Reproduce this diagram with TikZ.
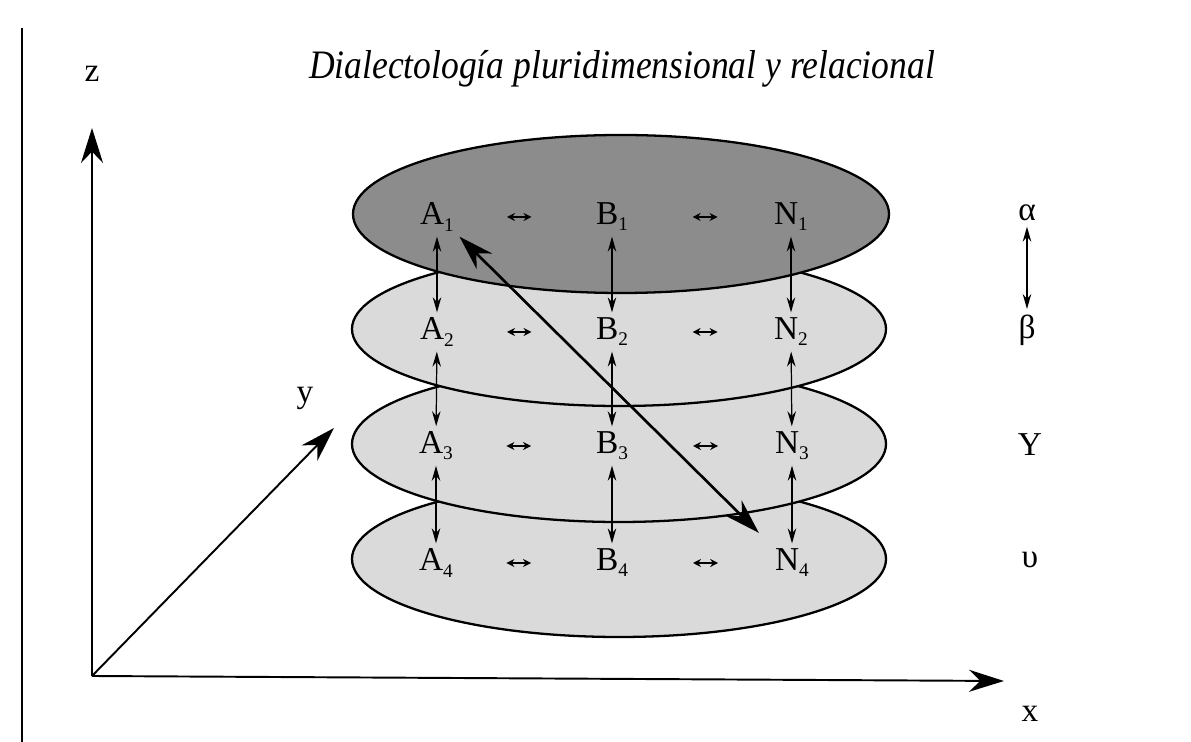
\documentclass[tikz,border=0pt]{standalone}
\usepackage{amsmath,amssymb}
\usepackage{fontspec}
\setmainfont{Liberation Serif}
\usepackage{xcolor}
\usepackage{tikz}
\usetikzlibrary{arrows.meta,calc}
\definecolor{layerdark}{RGB}{140,140,140}
\definecolor{layerlight}{RGB}{218,218,218}
\newcommand{\lev}[1]{\raisebox{-0.4ex}{\fontsize{11}{12}\selectfont #1}}

\begin{document}
\begin{tikzpicture}[x=0.02cm, y=-0.02cm,
    layer/.style={draw=black, line width=1.3pt},
    lbl/.style={font=\fontsize{19}{22}\selectfont, inner sep=3pt},
    axis/.style={-{Stealth[length=7mm,width=4.4mm]}, line width=1.1pt},
    vlink/.style={{Stealth[length=3mm,width=1.7mm]}-{Stealth[length=3mm,width=1.7mm]}, line width=0.7pt},
    hlink/.style={{Stealth[length=1.6mm,width=1.6mm]}-{Stealth[length=1.6mm,width=1.6mm]}, line width=1.2pt},
    diag/.style={{Stealth[length=7mm,width=4.4mm]}-{Stealth[length=7mm,width=4.4mm]}, line width=1.5pt}]
    \useasboundingbox (0,0) rectangle (1191,742);
    % page edge
    \draw[line width=1.5pt] (22,28) -- (22,742);
    % title
    \node[font=\fontsize{23}{27}\selectfont\itshape] (title) at (622,69)
        {\scalebox{0.88}[1]{Dialectología pluridimensional y relacional}};
    % axes
    \coordinate (O) at (92,676);
    \coordinate (zend) at (92,128);
    \coordinate (xend) at (1004,681);
    \coordinate (yend) at (334,428);
    \draw[axis] (O) -- (zend);
    \draw[axis] (O) -- (xend);
    \draw[axis] (O) -- (yend);
    \node[lbl] (zlab) at (92,74) {z};
    \node[lbl] (ylab) at (305,398) {y};
    \node[lbl] (xlab) at (1030,714) {x};
    % layers, lowest first
    \filldraw[layer, fill=layerlight] (619,559) ellipse (267 and 78);
    \filldraw[layer, fill=layerlight] (619,444) ellipse (267 and 78);
    \filldraw[layer, fill=layerlight] (619,329) ellipse (267 and 77);
    \filldraw[layer, fill=layerdark] (621,214) ellipse (268 and 79);
    % varieties
    \node[lbl] (A1) at (437,217) {A\lev{1}};
    \node[lbl] (B1) at (612,217) {B\lev{1}};
    \node[lbl] (N1) at (791,217) {N\lev{1}};
    \node[lbl] (A2) at (437,332) {A\lev{2}};
    \node[lbl] (B2) at (612,332) {B\lev{2}};
    \node[lbl] (N2) at (791,332) {N\lev{2}};
    \node[lbl] (A3) at (436,446) {A\lev{3}};
    \node[lbl] (B3) at (612,446) {B\lev{3}};
    \node[lbl] (N3) at (792,446) {N\lev{3}};
    \node[lbl] (A4) at (436,563) {A\lev{4}};
    \node[lbl] (B4) at (612,563) {B\lev{4}};
    \node[lbl] (N4) at (792,563) {N\lev{4}};
    % links inside a layer
    \draw[hlink] ($(A1)!0.40!(B1)$) -- ($(A1)!0.54!(B1)$);
    \draw[hlink] ($(B1)!0.45!(N1)$) -- ($(B1)!0.59!(N1)$);
    \draw[hlink] ($(A2)!0.40!(B2)$) -- ($(A2)!0.54!(B2)$);
    \draw[hlink] ($(B2)!0.45!(N2)$) -- ($(B2)!0.59!(N2)$);
    \draw[hlink] ($(A3)!0.40!(B3)$) -- ($(A3)!0.54!(B3)$);
    \draw[hlink] ($(B3)!0.45!(N3)$) -- ($(B3)!0.59!(N3)$);
    \draw[hlink] ($(A4)!0.40!(B4)$) -- ($(A4)!0.54!(B4)$);
    \draw[hlink] ($(B4)!0.45!(N4)$) -- ($(B4)!0.59!(N4)$);
    % links between layers
    \draw[vlink] (A1) -- (A2);
    \draw[vlink] (A2) -- (A3);
    \draw[vlink] (A3) -- (A4);
    \draw[vlink] (B1) -- (B2);
    \draw[vlink] (B2) -- (B3);
    \draw[vlink] (B3) -- (B4);
    \draw[vlink] (N1) -- (N2);
    \draw[vlink] (N2) -- (N3);
    \draw[vlink] (N3) -- (N4);
    \draw[diag, shorten >=0.3cm] (A1.south east) -- (N4.north west);
    % levels
    \node[lbl] (alpha) at (1027,213) {α};
    \node[lbl] (beta) at (1027,330) {β};
    \node[lbl] (gam) at (1030,445) {Y};
    \node[lbl] (ups) at (1030,560) {υ};
    \draw[vlink, line width=1pt] (alpha) -- (beta);
\end{tikzpicture}
\end{document}
